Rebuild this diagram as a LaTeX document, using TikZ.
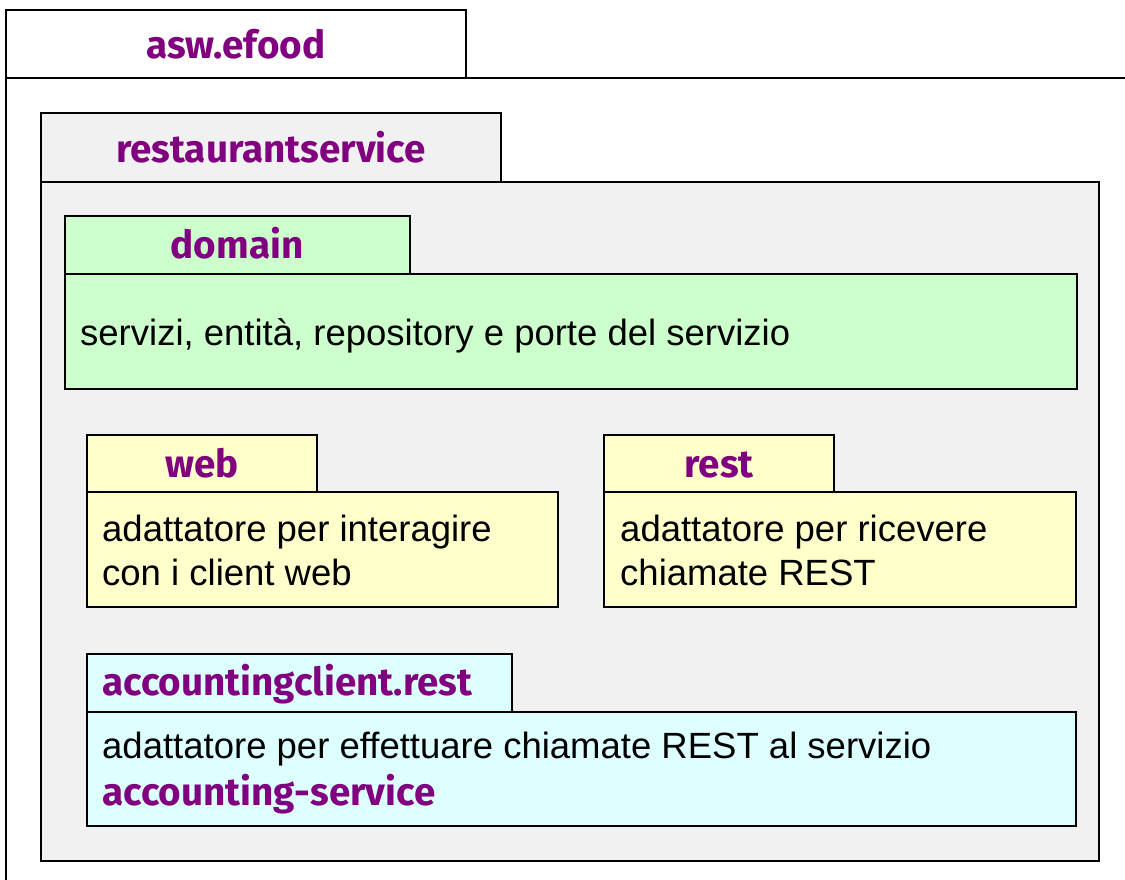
\documentclass[tikz,border=0pt]{standalone}
\usepackage{fontspec}
\setmainfont{Liberation Sans}
\newfontfamily\titlefont{Fira Sans}[UprightFont=* Bold]
\definecolor{pkgpurple}{HTML}{800080}
\definecolor{pkggray}{HTML}{F1F1F1}
\definecolor{pkggreen}{HTML}{CCFFCC}
\definecolor{pkgyellow}{HTML}{FFFFCC}
\definecolor{pkgcyan}{HTML}{DDFFFF}
\tikzset{
  pkgbox/.style={draw=black, line width=2pt, anchor=north west, inner sep=0pt, outer sep=0pt},
  pkgtitle/.style={font=\titlefont\fontsize{38.6}{44}\selectfont, text=pkgpurple, inner sep=0pt, anchor=base},
  pkgtext/.style={font=\fontsize{36.5}{44}\selectfont, inner sep=0pt, anchor=base west},
}
\begin{document}
\begin{tikzpicture}[x=1pt, y=-1pt]
\useasboundingbox (0,0) rectangle (1125,879);
\fill[white] (0,0) rectangle (1125,879);
% outer package asw.efood
\node[pkgbox, fill=white, minimum width=460pt, minimum height=68pt] (efoodtab) at (6,10) {};
\node[pkgbox, fill=white, minimum width=1140pt, minimum height=820pt] (efoodbody) at (6,78) {};
\node[pkgtitle] (efoodtitle) at (236,58) {asw.efood};
% restaurantservice
\node[pkgbox, fill=pkggray, minimum width=460pt, minimum height=69pt] (rstab) at (41,113) {};
\node[pkgbox, fill=pkggray, minimum width=1058pt, minimum height=679pt] (rsbody) at (41,182) {};
\node[pkgtitle] (rstitle) at (271,162) {restaurantservice};
% domain
\node[pkgbox, fill=pkggreen, minimum width=345pt, minimum height=58pt] (domaintab) at (65,216) {};
\node[pkgbox, fill=pkggreen, minimum width=1012pt, minimum height=115pt] (domainbody) at (65,274) {};
\node[pkgtitle] (domaintitle) at (237,258) {domain};
\node[pkgtext] (domaintext) at (80,345) {servizi, entità, repository e porte del servizio};
% web
\node[pkgbox, fill=pkgyellow, minimum width=230pt, minimum height=57pt] (webtab) at (87,435) {};
\node[pkgbox, fill=pkgyellow, minimum width=471pt, minimum height=115pt] (webbody) at (87,492) {};
\node[pkgtitle] (webtitle) at (202,477) {web};
\node[pkgtext] (webtext1) at (102,541) {adattatore per interagire};
\node[pkgtext] (webtext2) at (102,585) {con i client web};
% rest
\node[pkgbox, fill=pkgyellow, minimum width=230pt, minimum height=57pt] (resttab) at (604,435) {};
\node[pkgbox, fill=pkgyellow, minimum width=472pt, minimum height=115pt] (restbody) at (604,492) {};
\node[pkgtitle] (resttitle) at (719,477) {rest};
\node[pkgtext] (resttext1) at (620,541) {adattatore per ricevere};
\node[pkgtext] (resttext2) at (620,585) {chiamate REST};
% accountingclient.rest
\node[pkgbox, fill=pkgcyan, minimum width=425pt, minimum height=58pt] (acctab) at (87,654) {};
\node[pkgbox, fill=pkgcyan, minimum width=989pt, minimum height=114pt] (accbody) at (87,712) {};
\node[pkgtitle, anchor=base west] (acctitle) at (102,695) {accountingclient.rest};
\node[pkgtext] (acctext1) at (102,758) {adattatore per effettuare chiamate REST al servizio};
\node[pkgtitle, anchor=base west] (acctext2) at (102,805) {accounting-service};
\end{tikzpicture}
\end{document}
